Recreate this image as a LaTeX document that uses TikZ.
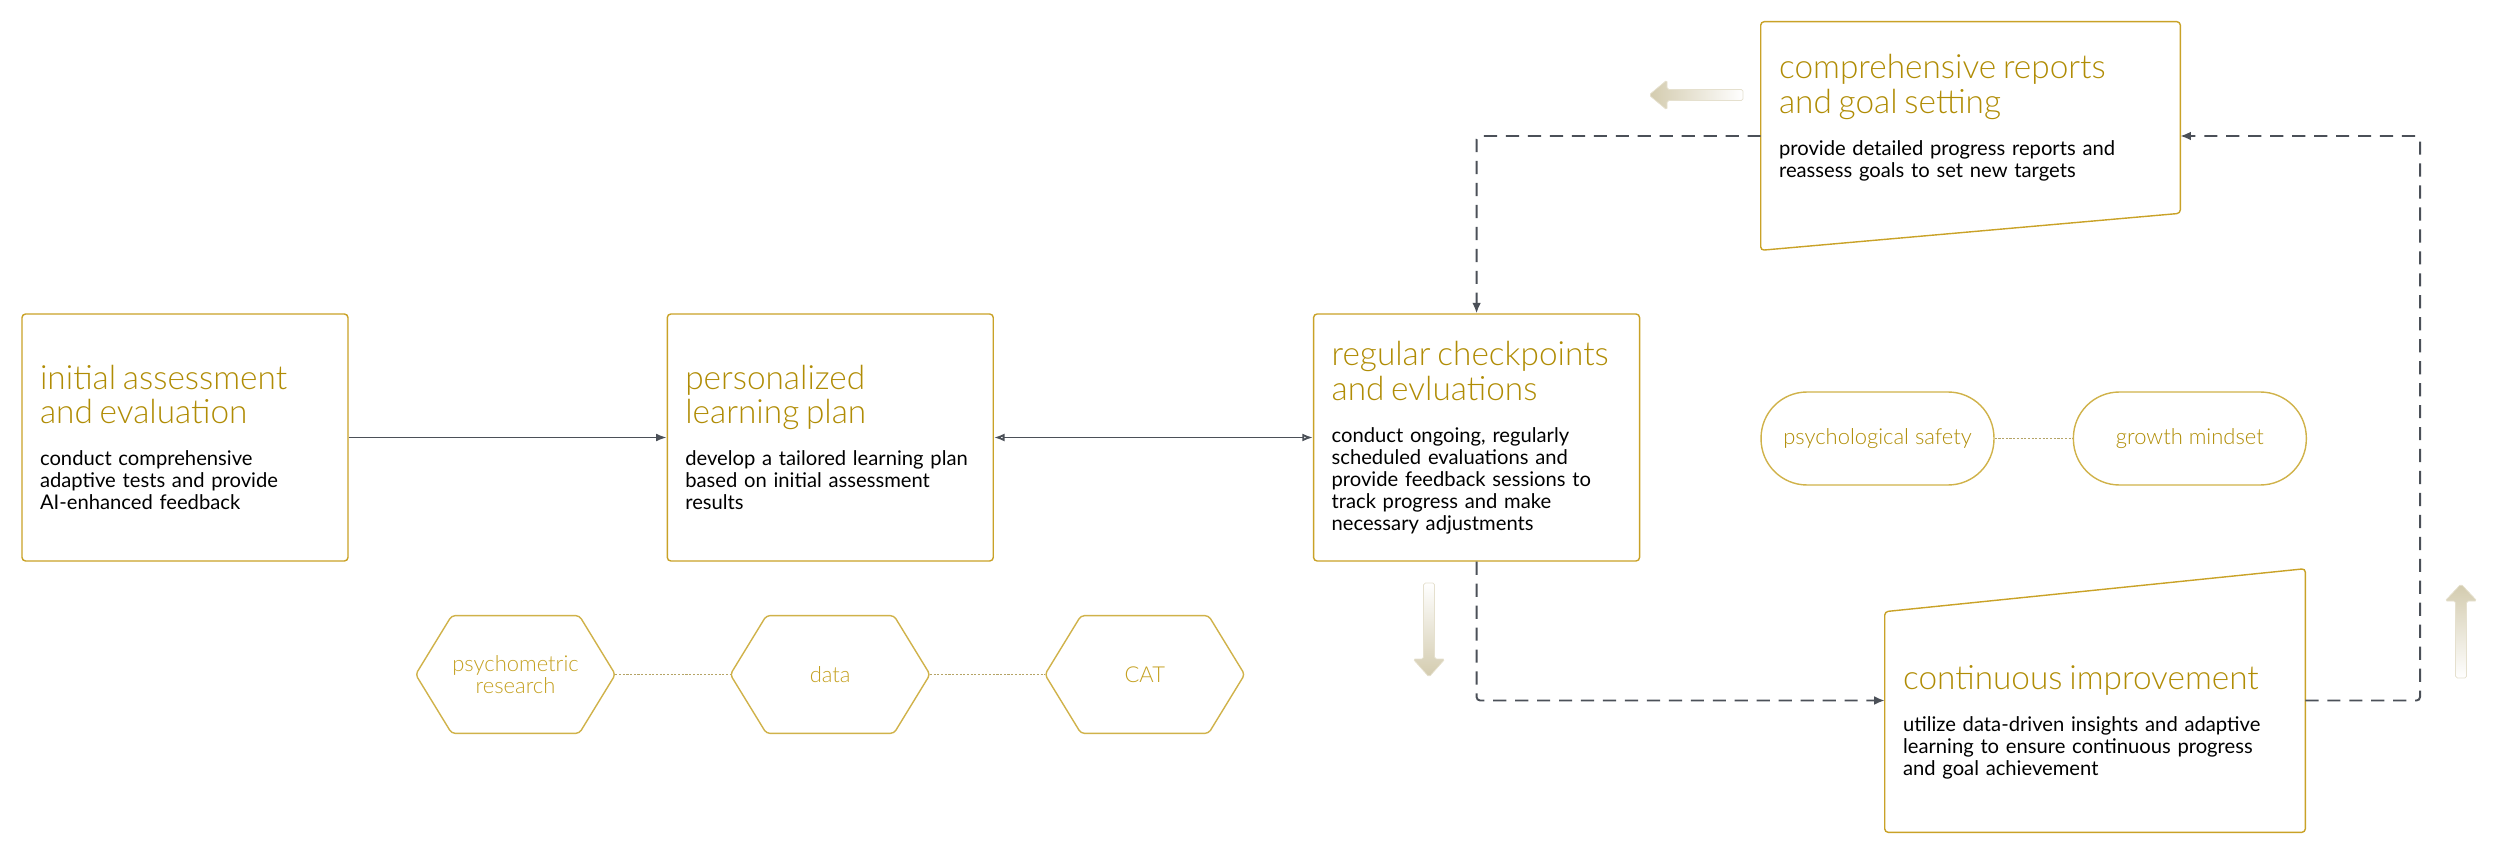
\documentclass[tikz,border=0pt]{standalone}
\usepackage{fontspec}
\setmainfont{Lato}
\newfontfamily\headfont{Lato}[UprightFont={* Light}]
\usepackage{xcolor}
\usepackage{tikz}
\usetikzlibrary{arrows.meta, positioning, calc}

\definecolor{boxgold}{HTML}{C9A227}
\definecolor{titlegold}{HTML}{B08C05}
\definecolor{softgold}{HTML}{D0B24A}
\definecolor{tagtext}{HTML}{C4A020}
\definecolor{tiegold}{HTML}{B5A466}
\definecolor{linegray}{HTML}{4B5058}
\definecolor{arrowtan}{HTML}{D3CBAE}

\newcommand{\stagehead}[1]{{\color{titlegold}\headfont\fontsize{19}{19.75}\selectfont #1\par}\vspace{11.4pt}}

\begin{document}
\begin{tikzpicture}[
    x=0.02cm, y=-0.02cm,
    stage/.style={
      rectangle, draw=boxgold, line width=0.8pt, rounded corners=2pt,
      minimum width=6.52cm, minimum height=4.94cm,
      text width=5.8cm, inner xsep=0.36cm, align=left,
      font=\fontsize{11.5}{12.5}\selectfont
    },
    slantbox/.style={rectangle, inner sep=0pt},
    slantline/.style={draw=boxgold, line width=0.8pt, rounded corners=2pt},
    stagetext/.style={
      text width=#1, inner xsep=0.36cm, inner ysep=0pt, align=left,
      font=\fontsize{11.5}{12.5}\selectfont
    },
    pill/.style={
      rectangle, draw=softgold, line width=0.8pt, rounded corners=0.92cm,
      minimum width=4.66cm, minimum height=1.86cm,
      font=\headfont\fontsize{12.5}{14}\selectfont, text=titlegold
    },
    hexbox/.style={
      rectangle, inner sep=0pt, minimum width=3.98cm, minimum height=2.34cm,
      align=center, font=\headfont\fontsize{12.5}{12.5}\selectfont, text=tagtext
    },
    hexline/.style={draw=softgold, line width=0.8pt, rounded corners=2pt},
    tie/.style={draw=tiegold, line width=0.8pt, dash pattern=on 1.2pt off 0.9pt},
    arr/.style={-{Latex[length=6pt, width=4.5pt]}, line width=1pt, draw=linegray, #1},
    arr/.default=solid,
    twoway/.style={{Latex[open, length=6pt, width=4.5pt]}-{Latex[open, length=6pt, width=4.5pt]},
      line width=1pt, draw=linegray},
    cycleline/.style={-{Latex[length=6pt, width=5pt]}, line width=1.1pt, draw=linegray,
      dash pattern=on 7.5pt off 5pt, rounded corners=2pt},
    fadearrow/.style={draw=arrowtan!60, line width=0.4pt, rounded corners=1pt},
  ]
  \useasboundingbox (0,0) rectangle (2500,854);

  %% ── Main row (left → right) ───────────────────────────────────────────
  \node[stage] (init) at (185,437.5)
    {\stagehead{initial assessment\\and evaluation}
     conduct comprehensive\\adaptive tests and provide\\AI-enhanced feedback};
  \node[stage, right=6.36cm of init] (plan)
    {\stagehead{personalized\\learning plan}
     develop a tailored learning plan\\based on initial assessment\\results};
  \node[stage, right=6.38cm of plan] (check)
    {\stagehead{regular checkpoints\\and evluations}
     conduct ongoing, regularly\\scheduled evaluations and\\provide feedback sessions to\\track progress and make\\necessary adjustments};

  \draw[arr]    (init) -- (plan);
  \draw[twoway] (plan) -- (check);

  %% ── Slanted boxes (right side) ────────────────────────────────────────
  \node[slantbox, minimum width=8.38cm, minimum height=4.56cm] (reports) at (1970.5,136) {};
  \draw[slantline] (reports.north west) -- (reports.north east)
    -- ($(reports.south east)+(0,-37)$) -- (reports.south west) -- cycle;
  \node[stagetext=7.66cm] (reportstext) at ($(reports.center)+(0,-18.5)$)
    {\stagehead{comprehensive reports\\and goal setting}
     provide detailed progress reports and\\reassess goals to set new targets};

  \node[slantbox, minimum width=8.4cm, minimum height=5.26cm] (improve) at (2095,700.5) {};
  \draw[slantline] (improve.south west) -- (improve.south east)
    -- (improve.north east) -- ($(improve.north west)+(0,43)$) -- cycle;
  \node[stagetext=7.68cm] (improvetext) at ($(improve.center)+(0,21.5)$)
    {\stagehead{continuous improvement}
     utilize data-driven insights and adaptive\\learning to ensure continuous progress\\and goal achievement};

  %% ── Dashed feedback cycle ─────────────────────────────────────────────
  \coordinate (loopR) at (2420,0);
  \draw[cycleline] (check.south) |- (improve.west);
  \draw[cycleline] (improve.east) -- (improve.east -| loopR)
      -- (reports.east -| loopR) -- (reports.east);
  \draw[cycleline] (reports.west) -| (check.north);

  %% ── Soft direction hints ──────────────────────────────────────────────
  \shade[fadearrow, left color=arrowtan, right color=white]
    (1743,89.5) -- (1667,89.5) -- (1667,80) -- (1649,95)
    -- (1667,110) -- (1667,100.5) -- (1743,100.5) -- cycle;
  \shade[fadearrow, top color=white, bottom color=arrowtan]
    (1423.5,583) -- (1423.5,659) -- (1413,659) -- (1429,677)
    -- (1445,659) -- (1434.5,659) -- (1434.5,583) -- cycle;
  \shade[fadearrow, top color=arrowtan, bottom color=white]
    (2455.5,678) -- (2455.5,601) -- (2445,601) -- (2461,584)
    -- (2477,601) -- (2466.5,601) -- (2466.5,678) -- cycle;

  %% ── Mindset pills ─────────────────────────────────────────────────────
  \node[pill] (safety) at (1877.5,438.5) {psychological safety};
  \node[pill, right=1.56cm of safety] (growth) {growth mindset};
  \draw[tie] (safety) -- (growth);

  %% ── Foundations (hexagons) ────────────────────────────────────────────
  \node[hexbox] (psy) at (515.5,674.5) {psychometric\\research};
  \node[hexbox, right=2.3cm of psy] (data) {data};
  \node[hexbox, right=2.3cm of data] (cat) {CAT};
  \foreach \h in {psy, data, cat}
    \draw[hexline] (\h.west) -- ($(\h.north west)+(36,0)$) -- ($(\h.north east)+(-36,0)$)
      -- (\h.east) -- ($(\h.south east)+(-36,0)$) -- ($(\h.south west)+(36,0)$) -- cycle;
  \draw[tie] (psy) -- (data);
  \draw[tie] (data) -- (cat);

\end{tikzpicture}
\end{document}
